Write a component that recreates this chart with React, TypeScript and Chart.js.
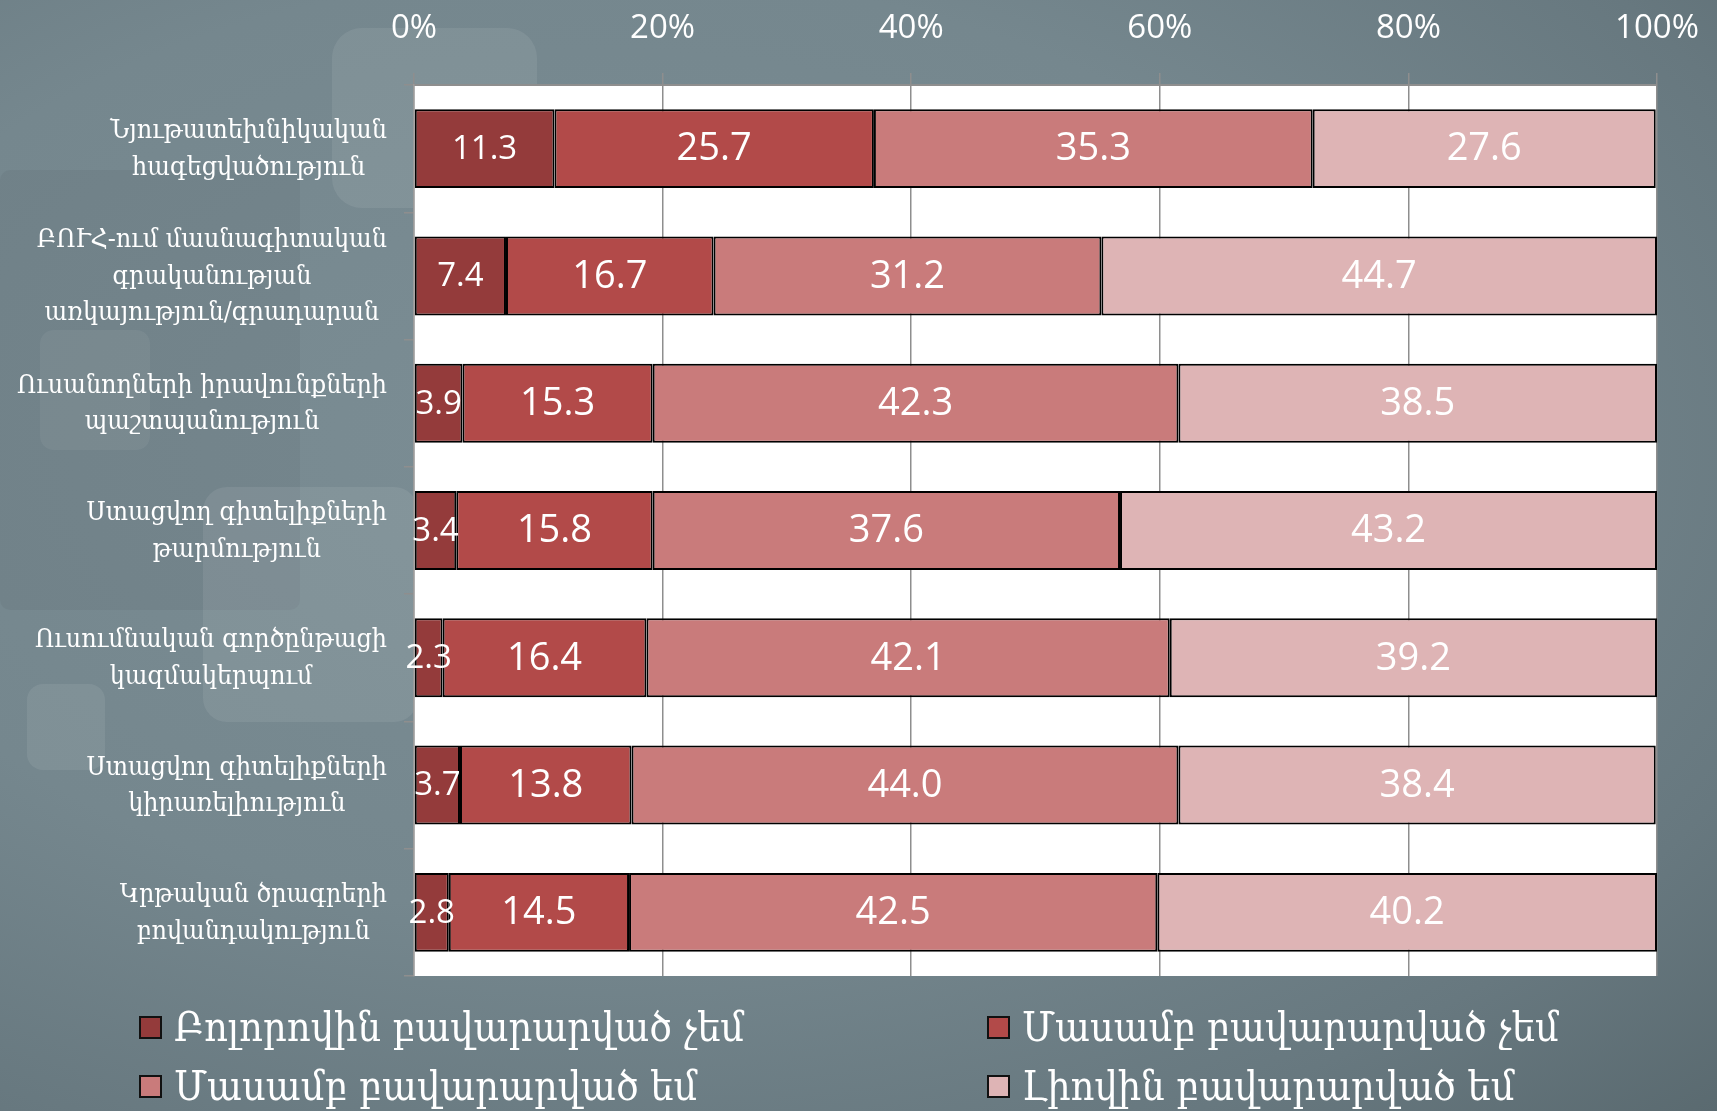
import React, { useEffect, useRef } from 'react';
import { Chart, registerables } from 'chart.js';

Chart.register(...registerables);

const categories: string[][] = [
  ['Նյութատեխնիկական', 'հագեցվածություն'],
  ['ԲՈՒՀ-ում մասնագիտական', 'գրականության', 'առկայություն/գրադարան'],
  ['Ուսանողների իրավունքների', 'պաշտպանություն'],
  ['Ստացվող գիտելիքների', 'թարմություն'],
  ['Ուսումնական գործընթացի', 'կազմակերպում'],
  ['Ստացվող գիտելիքների', 'կիրառելիություն'],
  ['Կրթական ծրագրերի', 'բովանդակություն'],
];

const seriesNames = [
  'Բոլորովին բավարարված չեմ',
  'Մասամբ բավարարված չեմ',
  'Մասամբ բավարարված եմ',
  'Լիովին բավարարված եմ',
];

const notSatisfiedAtAll = [11.3, 7.4, 3.9, 3.4, 2.3, 3.7, 2.8];
const partlyNotSatisfied = [25.7, 16.7, 15.3, 15.8, 16.4, 13.8, 14.5];
const partlySatisfied = [35.3, 31.2, 42.3, 37.6, 42.1, 44.0, 42.5];
const fullySatisfied = [27.6, 44.7, 38.5, 43.2, 39.2, 38.4, 40.2];

const xTicks = [0, 20, 40, 60, 80, 100];

const seriesColors = ['#943b3b', '#b24a49', '#c97b7b', '#deb4b5'];

const W = 1717;
const H = 1111;
const PLOT_LEFT = 414;
const PLOT_RIGHT = 1657;
const PLOT_TOP = 85;
const PLOT_BOTTOM = 976;
const LABEL_RIGHT = 387;
const CAT_FONT = 26.6;
const CAT_LH = 36.5;
const SERIF = '"DejaVu Serif Condensed", "DejaVu Serif", serif';
const SANS = '"Open Sans", "Noto Sans", sans-serif';

const plotBgPlugin = {
  id: 'plotBg',
  beforeDraw(chart: any) {
    const { ctx, chartArea } = chart;
    ctx.save();
    ctx.fillStyle = '#ffffff';
    ctx.fillRect(chartArea.left, chartArea.top, chartArea.right - chartArea.left, chartArea.bottom - chartArea.top);
    ctx.restore();
  },
};

const catLabelPlugin = {
  id: 'catLabels',
  afterDraw(chart: any) {
    const ctx = chart.ctx;
    const y = chart.scales.y;
    ctx.save();
    ctx.font = `${CAT_FONT}px ${SERIF}`;
    ctx.fillStyle = '#ffffff';
    ctx.textAlign = 'center';
    ctx.textBaseline = 'middle';
    categories.forEach((lines, i) => {
      const cy = y.getPixelForTick(i);
      const maxW = Math.max(...lines.map((l) => ctx.measureText(l).width));
      const cx = LABEL_RIGHT - maxW / 2;
      lines.forEach((l, j) => {
        ctx.fillText(l, cx, cy + 1 + (j - (lines.length - 1) / 2) * CAT_LH);
      });
    });
    ctx.restore();
  },
};

const valueLabelPlugin = {
  id: 'valueLabels',
  afterDatasetsDraw(chart: any) {
    const ctx = chart.ctx;
    ctx.save();
    ctx.fillStyle = '#ffffff';
    ctx.textAlign = 'center';
    ctx.textBaseline = 'middle';
    chart.data.datasets.forEach((ds: any, di: number) => {
      const meta = chart.getDatasetMeta(di);
      ctx.font = `${di === 0 ? 33 : 38}px ${SANS}`;
      meta.data.forEach((bar: any, i: number) => {
        const v = ds.data[i];
        const cx = (bar.x + bar.base) / 2;
        ctx.fillText(Number(v).toFixed(1), cx, bar.y + 1);
      });
    });
    ctx.restore();
  },
};

function LegendItem({ color, text, x, y }: { color: string; text: string; x: number; y: number }) {
  return (
    <div style={{ position: 'absolute', left: x, top: y, display: 'flex', alignItems: 'center', height: 50 }}>
      <div style={{ width: 19, height: 19, background: color, border: '2px solid #111', boxSizing: 'content-box' }} />
      <div style={{ marginLeft: 12, color: '#fff', fontFamily: SERIF, fontSize: 41, whiteSpace: 'nowrap', lineHeight: '50px' }}>{text}</div>
    </div>
  );
}

export default function App() {
  const canvasRef = useRef<HTMLCanvasElement | null>(null);

  useEffect(() => {
    document.body.style.margin = '0';
    const canvas = canvasRef.current!;
    const datasets = [notSatisfiedAtAll, partlyNotSatisfied, partlySatisfied, fullySatisfied].map((d, i) => ({
      label: seriesNames[i],
      data: d,
      backgroundColor: seriesColors[i],
      borderColor: '#000000',
      borderWidth: 2,
      borderSkipped: false,
      categoryPercentage: 1,
      barPercentage: 0.62,
    }));
    const chart = new Chart(canvas, {
      type: 'bar',
      data: { labels: categories.map((c) => c.join(' ')), datasets },
      options: {
        indexAxis: 'y',
        responsive: false,
        animation: false,
        devicePixelRatio: 1,
        layout: { padding: { left: 0, top: 0, right: W - PLOT_RIGHT, bottom: H - PLOT_BOTTOM } },
        plugins: { legend: { display: false }, tooltip: { enabled: false } },
        scales: {
          x: {
            position: 'top',
            stacked: true,
            min: 0,
            max: 100,
            afterBuildTicks: (scale: any) => {
              scale.ticks = xTicks.map((v) => ({ value: v }));
            },
            afterFit: (scale: any) => {
              scale.height = PLOT_TOP;
              scale.paddingLeft = 0;
              scale.paddingRight = 0;
            },
            ticks: {
              color: '#ffffff',
              font: { family: SANS, size: 33 },
              padding: 25,
              callback: (v: any) => `${v}%`,
            },
            grid: { color: '#8e8e8e', lineWidth: 1.5, drawTicks: true, tickLength: 12 },
            border: { display: true, color: '#8e8e8e', width: 2 },
          },
          y: {
            stacked: true,
            afterFit: (scale: any) => {
              scale.width = PLOT_LEFT;
              scale.paddingTop = 0;
              scale.paddingBottom = 0;
            },
            ticks: { display: false },
            grid: { drawOnChartArea: false, drawTicks: true, tickLength: 10, color: '#8e8e8e', lineWidth: 1.5, offset: true },
            border: { display: true, color: '#9a9a9a', width: 1.5 },
          },
        },
      },
      plugins: [plotBgPlugin, catLabelPlugin, valueLabelPlugin],
    } as any);
    return () => chart.destroy();
  }, []);

  const shape = (l: number, t: number, w: number, h: number, bg: string, r = 24) => (
    <div style={{ position: 'absolute', left: l, top: t, width: w, height: h, background: bg, borderRadius: r }} />
  );

  return (
    <div
      style={{
        position: 'absolute',
        left: 0,
        top: 0,
        width: W,
        height: H,
        overflow: 'hidden',
        background: 'radial-gradient(ellipse at 35% 40%, #7b8d94 0%, #75878e 50%, #67787f 80%, #5a6a70 100%)',
      }}
    >
      {shape(332, 28, 205, 180, 'rgba(255,255,255,0.08)', 30)}
      {shape(0, 170, 300, 440, 'rgba(0,0,0,0.04)', 10)}
      {shape(40, 330, 110, 120, 'rgba(255,255,255,0.05)', 14)}
      {shape(203, 487, 215, 235, 'rgba(255,255,255,0.08)', 24)}
      {shape(27, 684, 78, 86, 'rgba(255,255,255,0.08)', 16)}
      <canvas ref={canvasRef} width={W} height={H} style={{ position: 'absolute', left: 0, top: 0, width: W, height: H }} />
      <LegendItem color={seriesColors[0]} text={seriesNames[0]} x={139} y={1002} />
      <LegendItem color={seriesColors[1]} text={seriesNames[1]} x={987} y={1002} />
      <LegendItem color={seriesColors[2]} text={seriesNames[2]} x={139} y={1061} />
      <LegendItem color={seriesColors[3]} text={seriesNames[3]} x={987} y={1061} />
    </div>
  );
}
